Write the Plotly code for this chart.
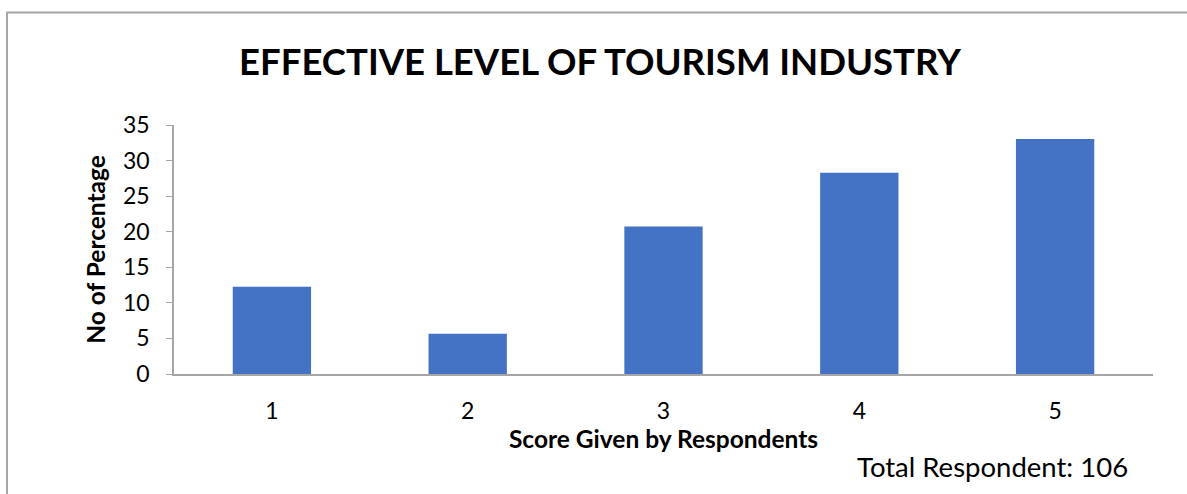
import plotly.graph_objects as go

# Score categories and share of respondents (%) for each score
scores = ["1", "2", "3", "4", "5"]
percentages = [12.26, 5.66, 20.75, 28.30, 33.02]
y_ticks = [0, 5, 10, 15, 20, 25, 30, 35]
total_respondents = 106

FONT = "Lato, Carlito, Calibri, sans-serif"
W, H = 1187, 494
L, R, T, B = 174, 34, 125, 120
pw = W - L - R
ph = H - T - B

fig = go.Figure(
    go.Bar(
        x=scores,
        y=percentages,
        marker=dict(color="#4472C4", line=dict(width=0)),
        width=0.4,
        hoverinfo="x+y",
    )
)

fig.update_layout(
    width=W,
    height=H,
    margin=dict(l=L, r=R, t=T, b=B),
    paper_bgcolor="white",
    plot_bgcolor="white",
    showlegend=False,
    font=dict(family=FONT, color="#000000"),
    title=dict(
        text="<b>EFFECTIVE LEVEL OF TOURISM INDUSTRY</b>",
        x=(600 - L) / pw,
        xref="paper",
        xanchor="center",
        y=1 - 62 / H,
        yref="container",
        yanchor="middle",
        font=dict(size=36.5, family=FONT, color="#000000"),
    ),
    xaxis=dict(
        showline=True,
        linecolor="#a6a6a6",
        linewidth=1.5,
        ticks="",
        showgrid=False,
        tickfont=dict(size=23, family=FONT),
        ticklabelstandoff=16,
        title=dict(
            text="<b>Score Given by Respondents</b>",
            font=dict(size=24.5, family=FONT),
            standoff=6,
        ),
        range=[-0.5, 4.5],
    ),
    yaxis=dict(
        range=[0, 35],
        tickvals=y_ticks,
        showline=True,
        linecolor="#a6a6a6",
        linewidth=1.5,
        ticks="outside",
        ticklen=6,
        tickcolor="#a6a6a6",
        showgrid=False,
        zeroline=False,
        tickfont=dict(size=23, family=FONT),
        ticklabelstandoff=12,
        title=dict(
            text="<b>No of Percentage</b>",
            font=dict(size=24.5, family=FONT),
            standoff=10,
        ),
    ),
)

# Chart frame (left and top edges visible within the page)
fig.add_shape(
    type="rect",
    xref="paper",
    yref="paper",
    x0=(7 - L) / pw,
    x1=(W + 5 - L) / pw,
    y0=-(H + 5 - T - ph) / ph,
    y1=1 + (T - 12.5) / ph,
    line=dict(color="#a6a6a6", width=2),
    fillcolor="rgba(0,0,0,0)",
    layer="below",
)

fig.add_annotation(
    text=f"Total Respondent: {total_respondents}",
    xref="paper",
    yref="paper",
    x=(855 - L) / pw,
    xanchor="left",
    y=-(466 - T - ph) / ph,
    yanchor="middle",
    showarrow=False,
    font=dict(size=27.5, family=FONT, color="#000000"),
)

fig.write_html("out.html")
